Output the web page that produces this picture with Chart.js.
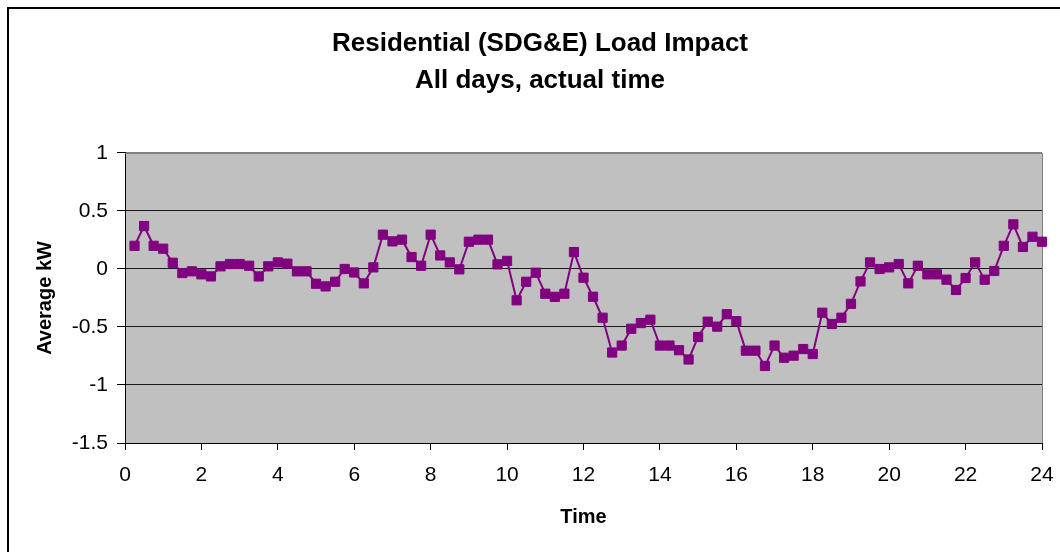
<!DOCTYPE html>
<html>
<head>
<meta charset="utf-8">
<script src="https://cdn.jsdelivr.net/npm/chart.js@4.4.1/dist/chart.umd.min.js"></script>
<style>
  html, body { margin: 0; padding: 0; background: #ffffff; }
  #wrap { width: 1060px; height: 552px; }
</style>
</head>
<body>
<div id="wrap"><canvas id="c" width="1060" height="552"></canvas></div>
<script>
const titleLines = ["Residential (SDG&E) Load Impact", "All days, actual time"];
const xAxisTitle = "Time";
const yAxisTitle = "Average kW";

const times = [0.25,0.5,0.75,1,1.25,1.5,1.75,2,2.25,2.5,2.75,3,3.25,3.5,3.75,4,
  4.25,4.5,4.75,5,5.25,5.5,5.75,6,6.25,6.5,6.75,7,7.25,7.5,7.75,8,
  8.25,8.5,8.75,9,9.25,9.5,9.75,10,10.25,10.5,10.75,11,11.25,11.5,11.75,12,
  12.25,12.5,12.75,13,13.25,13.5,13.75,14,14.25,14.5,14.75,15,15.25,15.5,15.75,16,
  16.25,16.5,16.75,17,17.25,17.5,17.75,18,18.25,18.5,18.75,19,19.25,19.5,19.75,20,
  20.25,20.5,20.75,21,21.25,21.5,21.75,22,22.25,22.5,22.75,23,23.25,23.5,23.75,24];

const loadImpact = [0.20,0.37,0.20,0.175,0.054,-0.035,-0.02,-0.046,-0.064,0.023,
  0.043,0.043,0.028,-0.064,0.023,0.057,0.046,-0.02,-0.02,-0.127,
  -0.15,-0.11,0.0,-0.03,-0.124,0.014,0.296,0.238,0.253,0.103,
  0.028,0.296,0.117,0.057,-0.003,0.235,0.253,0.253,0.04,0.07,
  -0.27,-0.11,-0.032,-0.213,-0.24,-0.213,0.146,-0.075,-0.239,-0.42,
  -0.72,-0.66,-0.515,-0.466,-0.437,-0.66,-0.66,-0.70,-0.78,-0.586,
  -0.454,-0.497,-0.39,-0.45,-0.704,-0.704,-0.836,-0.66,-0.765,-0.747,
  -0.69,-0.733,-0.377,-0.474,-0.42,-0.30,-0.107,0.057,0.0,0.014,
  0.043,-0.124,0.028,-0.046,-0.046,-0.092,-0.181,-0.078,0.057,-0.092,
  -0.017,0.20,0.385,0.19,0.278,0.235];

const xTickValues = [0,2,4,6,8,10,12,14,16,18,20,22,24];
const yTickValues = [1,0.5,0,-0.5,-1,-1.5];

const FONT = "'Liberation Sans', Arial, Helvetica, sans-serif";

const points = times.map((t, i) => ({ x: t, y: loadImpact[i] }));

const decor = {
  id: 'decor',
  beforeDraw(chart) {
    const ctx = chart.ctx;
    const a = chart.chartArea;
    ctx.save();
    ctx.fillStyle = '#ffffff';
    ctx.fillRect(0, 0, chart.width, chart.height);
    ctx.strokeStyle = '#000000';
    ctx.lineWidth = 2;
    ctx.strokeRect(8, 8, chart.width + 20, chart.height + 20);
    ctx.fillStyle = '#C0C0C0';
    ctx.fillRect(a.left, a.top, a.right - a.left, a.bottom - a.top);
    ctx.restore();
  },
  beforeDatasetsDraw(chart) {
    const ctx = chart.ctx;
    const a = chart.chartArea;
    ctx.save();
    ctx.strokeStyle = '#808080';
    ctx.lineWidth = 1;
    ctx.beginPath();
    ctx.moveTo(a.left, a.top + 0.5);
    ctx.lineTo(a.right + 0.5, a.top + 0.5);
    ctx.lineTo(a.right + 0.5, a.bottom);
    ctx.stroke();
    ctx.restore();
  }
};

new Chart(document.getElementById('c'), {
  type: 'line',
  data: {
    datasets: [{
      label: 'Load Impact',
      data: points,
      borderColor: '#800080',
      backgroundColor: '#800080',
      borderWidth: 2,
      pointStyle: 'rect',
      pointRadius: 6.5,
      pointBorderWidth: 1,
      pointBackgroundColor: '#800080',
      pointBorderColor: '#800080',
      tension: 0,
      clip: false
    }]
  },
  options: {
    responsive: false,
    animation: false,
    devicePixelRatio: 1,
    layout: { autoPadding: false, padding: { left: 38, right: 18, top: 0, bottom: 0 } },
    plugins: {
      legend: { display: false },
      tooltip: { enabled: false },
      title: {
        display: true,
        text: titleLines,
        color: '#000000',
        font: { family: FONT, size: 26, weight: 'bold', lineHeight: 1.423 },
        padding: { top: 25, bottom: 54 }
      }
    },
    scales: {
      x: {
        type: 'linear',
        min: 0,
        max: 24,
        afterFit(scale) { scale.height = 109; scale.paddingLeft = 0; scale.paddingRight = 0; },
        afterBuildTicks(scale) { scale.ticks = xTickValues.map(v => ({ value: v })); },
        ticks: {
          color: '#000000',
          font: { family: FONT, size: 21 },
          padding: 13,
          maxRotation: 0,
          autoSkip: false,
          callback: (v) => String(v)
        },
        grid: {
          display: true,
          drawOnChartArea: false,
          drawTicks: true,
          tickLength: 7,
          tickColor: '#000000'
        },
        border: { display: true, color: '#000000', width: 1 },
        title: {
          display: true,
          text: xAxisTitle,
          color: '#000000',
          font: { family: FONT, size: 20, weight: 'bold', lineHeight: 1.2 },
          padding: { top: 0, bottom: 23 }
        }
      },
      y: {
        type: 'linear',
        min: -1.5,
        max: 1,
        afterFit(scale) { scale.width = 87; scale.paddingTop = 0; scale.paddingBottom = 0; },
        afterBuildTicks(scale) { scale.ticks = yTickValues.slice().reverse().map(v => ({ value: v })); },
        ticks: {
          color: '#000000',
          font: { family: FONT, size: 21 },
          padding: 9,
          autoSkip: false,
          callback: (v) => String(v)
        },
        grid: {
          display: true,
          drawOnChartArea: true,
          drawTicks: true,
          tickLength: 8,
          color: (c) => (c.tick && c.tick.value === 1) ? '#808080' : '#1a1a1a',
          tickColor: '#000000',
          lineWidth: 1
        },
        border: { display: true, color: '#000000', width: 1 },
        title: {
          display: true,
          text: yAxisTitle,
          color: '#000000',
          font: { family: FONT, size: 20, weight: 'bold', lineHeight: 1.2 },
          padding: { top: -5, bottom: 0 }
        }
      }
    }
  },
  plugins: [decor]
});
</script>
</body>
</html>
